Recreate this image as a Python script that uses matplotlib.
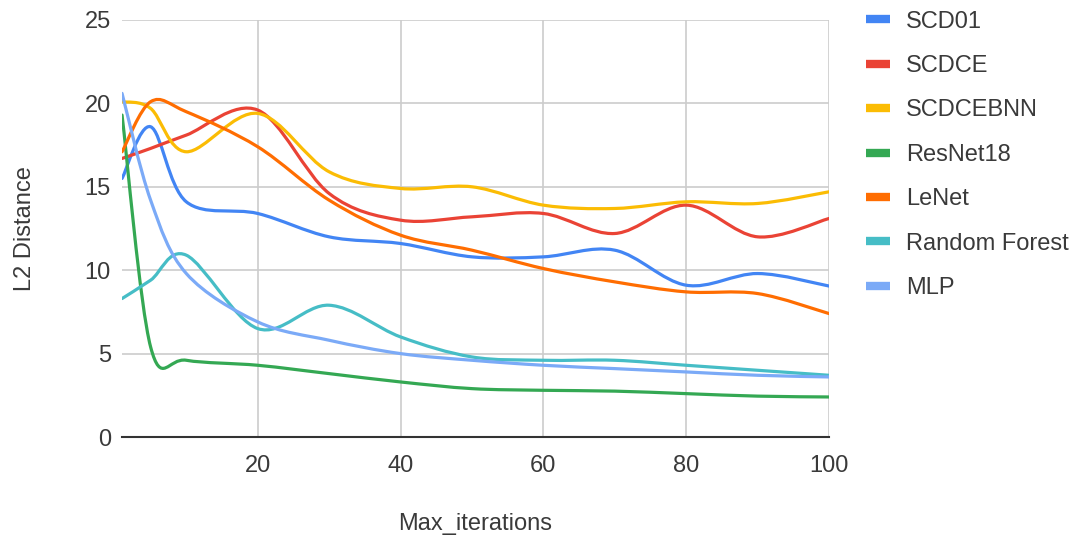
import matplotlib.pyplot as plt
from matplotlib.path import Path
from matplotlib.patches import PathPatch
from matplotlib.lines import Line2D
import numpy as np

plt.rcParams['font.family'] = ['Liberation Sans', 'DejaVu Sans']

# data
iters = [1, 5, 10, 20, 30, 40, 50, 60, 70, 80, 90, 100]
scd01 = [15.5, 18.6, 14.1, 13.4, 12.0, 11.6, 10.8, 10.8, 11.2, 9.1, 9.8, 9.05]
scdce = [16.7, 17.3, 18.1, 19.6, 14.6, 13.0, 13.2, 13.4, 12.2, 13.9, 12.0, 13.1]
scdcebnn = [20.1, 19.7, 17.1, 19.4, 15.9, 14.9, 15.0, 13.9, 13.7, 14.1, 14.0, 14.7]
resnet18 = [19.3, 5.4, 4.6, 4.3, 3.8, 3.3, 2.9, 2.8, 2.75, 2.6, 2.45, 2.4]
lenet = [17.1, 20.1, 19.5, 17.4, 14.2, 12.1, 11.2, 10.1, 9.3, 8.7, 8.6, 7.4]
random_forest = [8.3, 9.4, 10.9, 6.5, 7.9, 6.0, 4.8, 4.6, 4.6, 4.3, 4.0, 3.7]
mlp = [20.6, 14.2, 9.8, 6.9, 5.8, 5.0, 4.6, 4.3, 4.1, 3.9, 3.7, 3.6]

names = ['SCD01', 'SCDCE', 'SCDCEBNN', 'ResNet18', 'LeNet', 'Random Forest', 'MLP']
series = [scd01, scdce, scdcebnn, resnet18, lenet, random_forest, mlp]
colors = ['#4285F4', '#EA4335', '#FBBC04', '#34A853', '#FF6D01', '#46BDC6', '#7BAAF7']


def smooth_path(x, y, k=1/6):
    # catmull-rom style bezier through the data points
    p = np.column_stack([x, y]).astype(float)
    n = len(p)
    verts = [p[0]]
    codes = [Path.MOVETO]
    for i in range(n - 1):
        p0 = p[max(i - 1, 0)]
        p1 = p[i]
        p2 = p[i + 1]
        p3 = p[min(i + 2, n - 1)]
        c1 = p1 + (p2 - p0) * k
        c2 = p2 - (p3 - p1) * k
        verts += [c1, c2, p2]
        codes += [Path.CURVE4] * 3
    return Path(verts, codes)


fig = plt.figure(figsize=(10.81, 5.36), dpi=100)
ax = fig.add_axes([0.1129, 0.1847, 0.654, 0.778])

for vals, c in zip(series, colors):
    ax.add_patch(PathPatch(smooth_path(iters, vals), facecolor='none', edgecolor=c,
                           lw=2.3, capstyle='round', joinstyle='round', zorder=3))

txt = '#3a3a3a'
ax.set_xlim(1, 100)
ax.set_ylim(0, 25)
ax.set_xticks([20, 40, 60, 80, 100])
ax.set_yticks([0, 5, 10, 15, 20, 25])
ax.grid(True, color='#cccccc', lw=1.2)
ax.set_axisbelow(True)
for s in ['left', 'right', 'top']:
    ax.spines[s].set_visible(False)
ax.spines['bottom'].set_color('#333333')
ax.spines['bottom'].set_linewidth(1.5)
ax.spines['bottom'].set_zorder(4)
ax.tick_params(length=0, labelsize=17, colors=txt)
ax.tick_params(axis='y', pad=8)
ax.tick_params(axis='x', pad=13)
ax.set_xlabel('Max_iterations', fontsize=17, color=txt, labelpad=26)
ax.set_ylabel('L2 Distance', fontsize=17, color=txt, labelpad=35)

handles = [Line2D([], [], color=c, lw=6, solid_capstyle='butt') for c in colors]
fig.legend(handles, names, loc='upper left', bbox_to_anchor=(0.781, 1.02),
           frameon=False, fontsize=17, handlelength=1.05, handletextpad=0.66,
           labelspacing=0.95, labelcolor=txt)

fig.savefig('out.png', dpi=100)
